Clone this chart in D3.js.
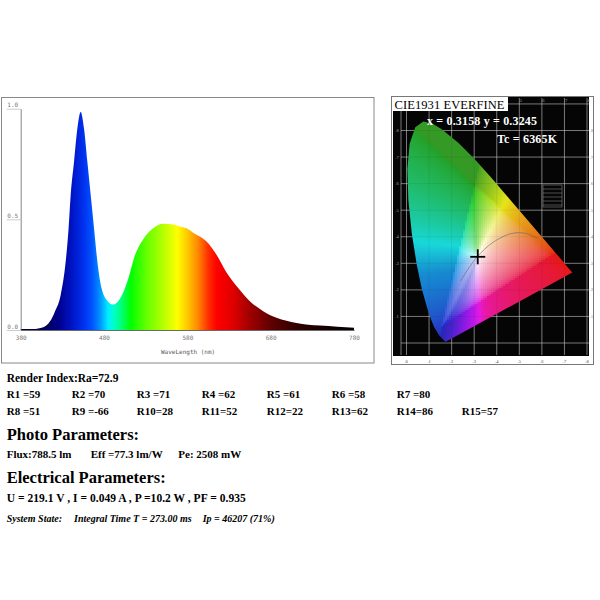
<!DOCTYPE html>
<html>
<head>
<meta charset="utf-8">
<script src="https://cdn.jsdelivr.net/npm/d3@7"></script>
<style>
  body { margin: 0; background: #fff; }
  svg { display: block; }
</style>
</head>
<body>
<script>
// ---- spectrum (relative intensity vs wavelength)
const wavelengths = [380, 395, 407, 415, 421, 428, 434, 437.5, 440, 444, 448, 452, 456, 460, 464, 468, 472, 477,
                     485, 491, 499, 509, 517, 527, 539, 551, 563, 571, 579, 587, 603, 615, 627, 641, 655, 671,
                     687, 711, 739, 760, 780];
const intensity   = [0.004, 0.004, 0.012, 0.038, 0.083, 0.158, 0.309, 0.46, 0.61, 0.76, 0.91, 0.985, 0.91, 0.76,
                     0.61, 0.46, 0.31, 0.19, 0.128, 0.115, 0.14, 0.23, 0.335, 0.41, 0.46, 0.48, 0.477, 0.468,
                     0.46, 0.44, 0.40, 0.34, 0.26, 0.19, 0.13, 0.085, 0.055, 0.032, 0.02, 0.015, 0.01];
const xTicks = [380, 480, 580, 680, 780];
const yTicks = [0, 0.5, 1.0];

// spectral fill colours
const stopNm    = [380, 410, 425, 440, 455, 465, 475, 485, 492, 500, 512, 530, 550, 568, 580, 592, 605, 615, 635, 655, 680, 710, 740, 780];
const stopColor = ['#000030', '#00005a', '#000088', '#0012c0', '#0030ee', '#0050ff', '#0090ff', '#00eeff', '#00ffc8', '#00ff80',
                   '#00ff00', '#60ff00', '#b0ff00', '#ffff00', '#ffc800', '#ff8c00', '#ff3000', '#ff0000', '#e00000', '#a00000',
                   '#600000', '#300000', '#180000', '#000000'];

// ---- CIE 1931 chromaticity
const locusX = [0.1741, 0.1714, 0.1644, 0.1566, 0.1440, 0.1241, 0.1096, 0.0913, 0.0687, 0.0454, 0.0235, 0.0082, 0.0039,
                0.0139, 0.0389, 0.0743, 0.1142, 0.1547, 0.2296, 0.3016, 0.3731, 0.4441, 0.5125, 0.5752, 0.6270, 0.6658,
                0.6915, 0.7190, 0.7347];
const locusY = [0.0050, 0.0051, 0.0109, 0.0177, 0.0297, 0.0578, 0.0868, 0.1327, 0.2007, 0.2950, 0.4127, 0.5384, 0.6548,
                0.7502, 0.8120, 0.8338, 0.8262, 0.8059, 0.7543, 0.6923, 0.6245, 0.5547, 0.4866, 0.4242, 0.3725, 0.3340,
                0.3083, 0.2809, 0.2653];
const planckX = [0.240, 0.264, 0.281, 0.295, 0.313, 0.345, 0.380, 0.437, 0.477, 0.527, 0.586];
const planckY = [0.234, 0.267, 0.288, 0.305, 0.324, 0.352, 0.377, 0.404, 0.414, 0.413, 0.393];
const cieTicks = [0, 0.1, 0.2, 0.3, 0.4, 0.5, 0.6, 0.7, 0.8];
const chromaX = 0.3158, chromaY = 0.3245, cct = 6365;

// ---- parameters
const ra = '72.9';
const rValues = [59, 70, 71, 62, 61, 58, 80, 51, -66, 28, 52, 22, 62, 86, 57];
const flux = '788.5', eff = '77.3', pe = '2508';
const volt = '219.1', amp = '0.049', power = '10.2', pf = '0.935';
const integralTime = '273.00', ip = '46207', ipPct = '71%';

const svg = d3.select('body').append('svg')
    .attr('width', 600).attr('height', 600)
    .style('font-family', '"Liberation Serif", "Times New Roman", serif');
const defs = svg.append('defs');

// ================= spectrum panel
svg.append('rect')
    .attr('x', 1.5).attr('y', 97.5).attr('width', 372.5).attr('height', 265.5)
    .attr('fill', '#fff').attr('stroke', '#888');

const x = d3.scaleLinear().domain([380, 780]).range([20.7, 354]);
const y = d3.scaleLinear().domain([0, 1]).range([330, 108.7]);

const grad = defs.append('linearGradient')
    .attr('id', 'spec').attr('gradientUnits', 'userSpaceOnUse')
    .attr('x1', x(380)).attr('x2', x(780)).attr('y1', 0).attr('y2', 0);
grad.selectAll('stop').data(stopNm).join('stop')
    .attr('offset', d => (d - 380) / 400)
    .attr('stop-color', (d, i) => stopColor[i]);

const area = d3.area()
    .x((d, i) => x(wavelengths[i]))
    .y0(y(0))
    .y1(d => y(d))
    .curve(d3.curveMonotoneX);

svg.append('path').datum(intensity).attr('d', area).attr('fill', 'url(#spec)');

const mono = '"DejaVu Sans Mono", monospace';

const yAxis = svg.append('g')
    .attr('transform', `translate(${x(380)},0)`)
    .call(d3.axisLeft(y).tickValues(yTicks).tickSize(14).tickSizeOuter(0).tickFormat(d3.format('.1f')));
yAxis.select('.domain').attr('stroke', '#666').attr('stroke-width', 0.8);
yAxis.selectAll('.tick line').attr('stroke', '#aaa').attr('stroke-width', 0.6);
yAxis.selectAll('.tick text')
    .attr('x', -8).attr('dy', '-0.3em').attr('text-anchor', 'middle')
    .attr('font-size', 6).attr('fill', '#777').attr('font-family', mono);

const xAxis = svg.append('g')
    .attr('transform', `translate(0,${y(0)})`)
    .call(d3.axisBottom(x).tickValues(xTicks).tickSize(0).tickSizeOuter(0));
xAxis.select('.domain').attr('stroke', '#444').attr('stroke-width', 0.8);
xAxis.selectAll('.tick text')
    .attr('y', 6).attr('font-size', 6).attr('fill', '#777').attr('font-family', mono);

svg.append('text')
    .attr('x', 161).attr('y', 354)
    .attr('font-size', 6).attr('fill', '#555').attr('font-family', mono)
    .text('WaveLength (nm)');

// ================= CIE panel
svg.append('rect')
    .attr('x', 391.5).attr('y', 96.5).attr('width', 202).attr('height', 268)
    .attr('fill', '#fff').attr('stroke', '#777');
svg.append('rect')
    .attr('x', 393).attr('y', 97).attr('width', 196).attr('height', 259)
    .attr('fill', '#050505');

const cx = d3.scaleLinear().domain([0, 0.8]).range([406.5, 587]);
const cy = d3.scaleLinear().domain([0, 0.8]).range([343, 130.5]);

const grid = svg.append('g').attr('stroke', '#c8c8c8').attr('stroke-width', 0.6);
grid.selectAll('.v').data(cieTicks).join('line').attr('class', 'v')
    .attr('x1', d => cx(d)).attr('x2', d => cx(d)).attr('y1', 98).attr('y2', 355);
grid.selectAll('.h').data(cieTicks.concat([0.9])).join('line').attr('class', 'h')
    .attr('y1', d => cy(d)).attr('y2', d => cy(d)).attr('x1', 401).attr('x2', 589);
grid.append('line').attr('x1', 401).attr('x2', 401).attr('y1', 98).attr('y2', 355);

// small tick labels round the frame
const tickFmt = d => d === 0 ? '0' : d3.format('.1f')(d).replace('0.', '.');
svg.append('g').selectAll('text').data(cieTicks.slice(1)).join('text')
    .attr('x', 397).attr('y', d => cy(d) + 1.5).attr('text-anchor', 'middle')
    .attr('font-size', 4.5).attr('fill', '#aaa').text(tickFmt);
svg.append('g').selectAll('text').data(cieTicks).join('text')
    .attr('x', d => cx(d)).attr('y', 362.5).attr('text-anchor', 'middle')
    .attr('font-size', 4.5).attr('fill', '#444').text(tickFmt);
svg.append('g').selectAll('text').data(cieTicks.slice(5)).join('text')
    .attr('x', d => cx(d) + 1).attr('y', 101.5).attr('text-anchor', 'middle')
    .attr('font-size', 4.5).attr('fill', '#aaa').text(tickFmt);
svg.append('g').selectAll('text').data(cieTicks.slice(1)).join('text')
    .attr('x', 591.5).attr('y', d => cy(d) + 1.5).attr('text-anchor', 'middle')
    .attr('font-size', 4).attr('fill', '#777').text(tickFmt);

// chromaticity colour fill
const locusPts = locusX.map((v, i) => [cx(v), cy(locusY[i])]);
defs.append('clipPath').attr('id', 'locus')
    .append('path').attr('d', 'M' + locusPts.join('L') + 'Z');

function chroma(px, py) {
    const yy = Math.max(py, 0.004);
    const X = px / yy, Y = 1, Z = (1 - px - yy) / yy;
    let r = 3.2406 * X - 1.5372 * Y - 0.4986 * Z;
    let g = -0.9689 * X + 1.8758 * Y + 0.0415 * Z;
    let b = 0.0557 * X - 0.2040 * Y + 1.0570 * Z;
    r = Math.max(r, 0); g = Math.max(g, 0); b = Math.max(b, 0);
    const m = Math.max(r, g, b) || 1;
    const rgb = d3.rgb(255 * Math.pow(r / m, 1 / 2.2), 255 * Math.pow(g / m, 1 / 2.2), 255 * Math.pow(b / m, 1 / 2.2));
    const h = d3.hsl(rgb);
    if (isNaN(h.h)) return rgb.formatHex();
    // the printed diagram: violets lean to blue, magentas to crimson, cyans to blue, greens are dull
    if (h.h > 230 && h.h <= 300) h.h = 230 + 70 * Math.pow((h.h - 230) / 70, 2);
    else if (h.h > 300) h.h = 300 + 60 * Math.pow((h.h - 300) / 60, 0.5);
    const cyanness = Math.max(0, 1 - Math.abs(h.h - 190) / 40);
    h.h += 12 * cyanness;
    const greenness = Math.max(0, 1 - Math.abs(h.h - 120) / 60);
    h.h -= 8 * greenness;
    const blueness = Math.max(0, 1 - Math.abs(h.h - 240) / 35);
    h.s *= 0.8 - 0.2 * greenness - 0.15 * blueness;
    h.l *= 1 - 0.42 * greenness * h.s - 0.1 * cyanness - 0.12 * blueness;
    return h.formatHex();
}

const cells = [];
const step = 2;
for (let px = cx(0) - 4; px < cx(0.75); px += step) {
    for (let py = cy(0.84); py < cy(-0.01); py += step) {
        cells.push({ px, py, c: chroma(cx.invert(px + step / 2), cy.invert(py + step / 2)) });
    }
}
svg.append('g').attr('clip-path', 'url(#locus)')
    .selectAll('rect').data(cells).join('rect')
    .attr('x', d => d.px).attr('y', d => d.py)
    .attr('width', step + 0.3).attr('height', step + 0.3)
    .attr('fill', d => d.c).attr('shape-rendering', 'crispEdges');

// faint grid over the colours
const gridOver = svg.append('g').attr('clip-path', 'url(#locus)').attr('stroke', '#000').attr('stroke-opacity', 0.12).attr('stroke-width', 0.5);
gridOver.selectAll('.v').data(cieTicks).join('line').attr('class', 'v')
    .attr('x1', d => cx(d)).attr('x2', d => cx(d)).attr('y1', 98).attr('y2', 355);
gridOver.selectAll('.h').data(cieTicks).join('line').attr('class', 'h')
    .attr('y1', d => cy(d)).attr('y2', d => cy(d)).attr('x1', 401).attr('x2', 589);

// Planckian locus
svg.append('path')
    .datum(planckX.map((v, i) => [cx(v), cy(planckY[i])]))
    .attr('d', d3.line().curve(d3.curveCatmullRom))
    .attr('fill', 'none').attr('stroke', '#666').attr('stroke-width', 0.6);

// small legend box on the right
const lg = svg.append('g').attr('stroke', '#999').attr('stroke-width', 0.5).attr('fill', 'none');
lg.append('rect').attr('x', 543).attr('y', 185).attr('width', 19).attr('height', 22);
lg.selectAll('line').data(d3.range(5)).join('line')
    .attr('x1', 543).attr('x2', 562).attr('y1', d => 189 + d * 4).attr('y2', d => 189 + d * 4);

// measured point
const px0 = cx(chromaX), py0 = cy(chromaY);
const cross = svg.append('g').attr('stroke', '#000').attr('stroke-width', 1.8);
cross.append('line').attr('x1', px0 - 7.5).attr('x2', px0 + 7.5).attr('y1', py0).attr('y2', py0);
cross.append('line').attr('x1', px0).attr('x2', px0).attr('y1', py0 - 7.5).attr('y2', py0 + 7.5);

// title and readings
svg.append('rect').attr('x', 392).attr('y', 97).attr('width', 116).attr('height', 14).attr('fill', '#fff');
svg.append('text').attr('x', 394.5).attr('y', 108.5)
    .attr('font-size', 12.5).attr('fill', '#000').attr('textLength', 110)
    .text('CIE1931 EVERFINE');
svg.append('text').attr('x', 427).attr('y', 125)
    .attr('font-size', 12).attr('font-weight', 'bold').attr('fill', '#fff').attr('textLength', 110)
    .text(`x = ${chromaX} y = ${chromaY}`);
svg.append('text').attr('x', 497).attr('y', 143)
    .attr('font-size', 12).attr('font-weight', 'bold').attr('fill', '#fff').attr('textLength', 60)
    .text(`Tc = ${cct}K`);

// ================= parameter text
const txt = svg.append('g').attr('font-weight', 'bold').attr('fill', '#000');

txt.append('text').attr('x', 6.7).attr('y', 382).attr('font-size', 11.5).text(`Render Index:Ra=${ra}`);

const rLabel = (v, i) => `R${i + 1}${i + 1 < 10 ? ' ' : ''}=${v}`;
txt.selectAll('.r').data(rValues).join('text').attr('class', 'r')
    .attr('x', (d, i) => 6.7 + (i < 7 ? i : i - 7) * 65)
    .attr('y', (d, i) => i < 7 ? 398 : 415)
    .attr('font-size', 11)
    .text(rLabel);

txt.append('text').attr('x', 6.7).attr('y', 440).attr('font-size', 16.5).text('Photo Parameters:');

const photo = txt.append('text').attr('y', 458).attr('font-size', 11);
photo.append('tspan').attr('x', 6.7).text(`Flux:${flux} lm`);
photo.append('tspan').attr('x', 90.7).text(`Eff =${eff} lm/W`);
photo.append('tspan').attr('x', 178.3).text(`Pe: ${pe} mW`);

txt.append('text').attr('x', 6.7).attr('y', 483).attr('font-size', 16.5).text('Electrical Parameters:');

txt.append('text').attr('x', 6.7).attr('y', 502).attr('font-size', 11.5).attr('textLength', 239)
    .text(`U = ${volt} V , I = ${amp} A , P =${power} W , PF = ${pf}`);

const sys = txt.append('text').attr('y', 522).attr('font-size', 10).attr('font-style', 'italic');
sys.append('tspan').attr('x', 6.7).text('System State:');
sys.append('tspan').attr('x', 74).text(`Integral Time T = ${integralTime} ms`);
sys.append('tspan').attr('x', 202.7).text(`Ip = ${ip} (${ipPct})`);
</script>
</body>
</html>
